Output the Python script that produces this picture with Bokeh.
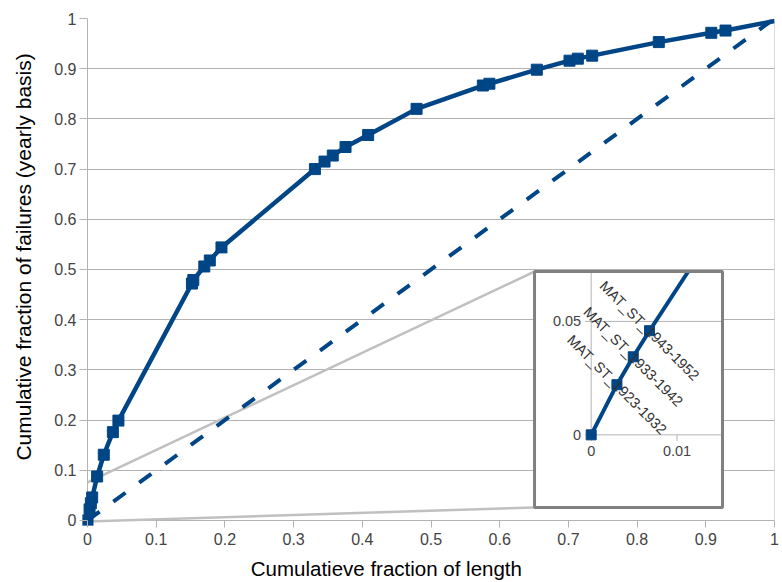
import numpy as np
from bokeh.plotting import figure
from bokeh.models import Range1d, Span, FixedTicker, LinearAxis
from bokeh.core.properties import value
from bokeh.embed import file_html
from bokeh.resources import INLINE

# ---------------- data ----------------
cum_length = [0.0, 0.0030, 0.0049, 0.0068, 0.014, 0.0237, 0.0369, 0.045,
              0.152, 0.154, 0.170, 0.178, 0.195, 0.331, 0.345, 0.357, 0.3756,
              0.4085, 0.479, 0.5755, 0.585, 0.654, 0.7016, 0.7137, 0.7346,
              0.8316, 0.908, 0.9287, 1.0]
cum_failures = [0.0, 0.0221, 0.0344, 0.0459, 0.0876, 0.131, 0.176, 0.199,
                0.472, 0.479, 0.506, 0.518, 0.544, 0.700, 0.715, 0.727, 0.744,
                0.768, 0.820, 0.8665, 0.870, 0.898, 0.916, 0.920, 0.926,
                0.953, 0.9715, 0.976, 0.995]
n_markers = len(cum_length) - 1          # last point lies on the frame edge

diag_x = [0.0, 1.0]
diag_y = [0.0, 1.0]

label_index = [1, 2, 3]
label_text = ["MAT_ST_1923-1932", "MAT_ST_1933-1942", "MAT_ST_1943-1952"]

ticks = [0, 0.1, 0.2, 0.3, 0.4, 0.5, 0.6, 0.7, 0.8, 0.9, 1]
tick_labels = ["0", "0.1", "0.2", "0.3", "0.4", "0.5", "0.6", "0.7", "0.8", "0.9", "1"]

inset_xticks = [0, 0.01]
inset_xtick_labels = ["0", "0.01"]
inset_yticks = [0, 0.05]
inset_ytick_labels = ["0", "0.05"]

x_title = "Cumulatieve fraction of length"
y_title = "Cumulative fraction of failures (yearly basis)"

# ---------------- layout / style ----------------
BLUE = "#004586"
GRID = "#b3b3b3"
FONT = "Liberation Sans"
TICK_COLOR = "#444444"

XS, YS = -0.0073, -0.010                    # small padding so origin marker isn't clipped
INSET_BOX = (0.6507, 0.9243, 0.026, 0.496)  # left, right, bottom, top (main units)
INSET_WIN = (-0.0066, 0.0153, -0.032, 0.072)  # inset data window
CONNECT_Y = (0.076, -0.002)                 # where connector lines leave the y axis
X_TITLE_AT = 0.435                          # centre of the x title (main x units)
Y_TITLE_AT = 0.525                          # centre of the y title (main y units)

p = figure(width=781, height=582, x_range=Range1d(XS, 1), y_range=Range1d(YS, 1),
           output_backend="svg", toolbar_location=None,
           min_border_left=82, min_border_right=7, min_border_top=18, min_border_bottom=57)
p.outline_line_color = None
p.background_fill_color = "white"
p.border_fill_color = "white"

for ax in (p.xaxis[0], p.yaxis[0]):
    ax.ticker = FixedTicker(ticks=ticks)
    ax.major_label_overrides = {t: l for t, l in zip(ticks, tick_labels)}
    ax.axis_line_color = None
    ax.major_tick_line_color = GRID
    ax.minor_tick_line_color = None
    ax.major_label_text_font = FONT
    ax.major_label_text_font_size = "16px"
    ax.major_label_text_color = TICK_COLOR

p.xaxis.major_tick_in = 5
p.xaxis.major_tick_out = 2
p.yaxis.major_tick_in = 5
p.yaxis.major_tick_out = 3
p.xaxis.major_label_standoff = 5
p.yaxis.major_label_standoff = 3

p.xgrid.visible = False
p.ygrid.ticker = FixedTicker(ticks=ticks)
p.ygrid.grid_line_color = GRID

p.add_layout(Span(location=0, dimension="height", line_color=GRID, line_width=1, level="underlay"))
p.add_layout(Span(location=1, dimension="height", line_color=GRID, line_width=1, level="underlay"))


# axis titles, as single-label axes stacked outside the tick labels
def title_axis(pos, text, standoff, size, orientation="horizontal"):
    return LinearAxis(ticker=FixedTicker(ticks=[pos]), major_label_overrides={pos: text},
                      axis_line_color=None, major_tick_line_color=None,
                      minor_tick_line_color=None, major_tick_in=0, major_tick_out=0,
                      minor_tick_in=0, minor_tick_out=0,
                      major_label_standoff=standoff, major_label_orientation=orientation,
                      major_label_text_font=FONT, major_label_text_font_size=size,
                      major_label_text_color="#000000")


p.add_layout(title_axis(X_TITLE_AT, x_title, 9, "20.5px"), "below")
p.add_layout(title_axis(Y_TITLE_AT, y_title, 16, "21px", "vertical"), "left")

# connector lines to the inset
L, R, B, T = INSET_BOX
p.line([0, L], [CONNECT_Y[0], T], line_color="#c0c0c0", line_width=2.5)
p.line([0, L], [CONNECT_Y[1], B], line_color="#c0c0c0", line_width=2.5)

# main series
p.line(diag_x, diag_y, line_color=BLUE, line_width=4, line_dash="15 17")
p.line(cum_length, cum_failures, line_color=BLUE, line_width=4.5, line_join="round")
p.scatter(cum_length[:n_markers], cum_failures[:n_markers], marker="square", size=11,
          color=BLUE)

# ---------------- inset ----------------
ix0, ix1, iy0, iy1 = INSET_WIN


def extra_range(ms, me, b0, b1, w0, w1):
    s = (w1 - w0) / (b1 - b0)
    return Range1d(w0 + (ms - b0) * s, w0 + (me - b0) * s)


p.extra_x_ranges = {"ix": extra_range(XS, 1, L, R, ix0, ix1)}
p.extra_y_ranges = {"iy": extra_range(YS, 1, B, T, iy0, iy1)}
kw = dict(x_range_name="ix", y_range_name="iy")

p.quad(left=[ix0], right=[ix1], bottom=[iy0], top=[iy1], fill_color="white",
       line_color=None, **kw)

xtick_len = (ix1 - ix0) * 6 / 188.0
ytick_len = (iy1 - iy0) * 6 / 236.0
# inset grid / axes
p.segment(x0=[-xtick_len] * len(inset_yticks), x1=[ix1] * len(inset_yticks),
          y0=inset_yticks, y1=inset_yticks, line_color=GRID, line_width=1, **kw)
p.segment(x0=[0], x1=[0], y0=[-ytick_len], y1=[iy1], line_color=GRID, line_width=1, **kw)
p.segment(x0=inset_xticks[1:], x1=inset_xticks[1:], y0=[-ytick_len] * (len(inset_xticks) - 1),
          y1=[0] * (len(inset_xticks) - 1), line_color=GRID, line_width=1, **kw)
p.text(x=[0] * len(inset_yticks), y=inset_yticks, text=inset_ytick_labels, x_offset=-10,
       text_align="right", text_baseline="middle", text_font=value(FONT),
       text_font_size="14.5px", text_color=TICK_COLOR, **kw)
p.text(x=inset_xticks, y=[0] * len(inset_xticks), text=inset_xtick_labels, y_offset=11,
       text_align="center", text_baseline="top", text_font=value(FONT),
       text_font_size="14.5px", text_color=TICK_COLOR, **kw)


def clip_polyline(xs, ys, x0, x1, y0, y1):
    out_x, out_y = [], []
    for i in range(len(xs) - 1):
        ax_, ay_, bx_, by_ = xs[i], ys[i], xs[i + 1], ys[i + 1]
        dx, dy = bx_ - ax_, by_ - ay_
        t0, t1 = 0.0, 1.0
        ok = True
        for pp, qq in ((-dx, ax_ - x0), (dx, x1 - ax_), (-dy, ay_ - y0), (dy, y1 - ay_)):
            if pp == 0:
                if qq < 0:
                    ok = False
                continue
            r = qq / pp
            if pp < 0:
                t0 = max(t0, r)
            else:
                t1 = min(t1, r)
        if not ok or t0 > t1:
            continue
        sx, sy = ax_ + t0 * dx, ay_ + t0 * dy
        ex, ey = ax_ + t1 * dx, ay_ + t1 * dy
        if not out_x or (out_x[-1], out_y[-1]) != (sx, sy):
            out_x.append(sx)
            out_y.append(sy)
        out_x.append(ex)
        out_y.append(ey)
    return out_x, out_y


cx, cy = clip_polyline(cum_length, cum_failures, ix0, ix1, iy0, iy1)
p.line(cx, cy, line_color=BLUE, line_width=4, line_join="round", **kw)
inside = [i for i in range(n_markers)
          if ix0 <= cum_length[i] <= ix1 and iy0 <= cum_failures[i] <= iy1]
p.scatter([cum_length[i] for i in inside], [cum_failures[i] for i in inside],
          marker="square", size=10, color=BLUE, **kw)
p.text(x=[cum_length[i] for i in label_index], y=[cum_failures[i] for i in label_index],
       text=label_text, angle=-0.7854, text_align="center", text_baseline="middle",
       text_font=value(FONT), text_font_size="14.5px", text_color="#333333", **kw)

p.quad(left=[ix0], right=[ix1], bottom=[iy0], top=[iy1], fill_color=None,
       line_color="#808080", line_width=3, **kw)

open("out.html", "w").write(file_html(p, INLINE))
